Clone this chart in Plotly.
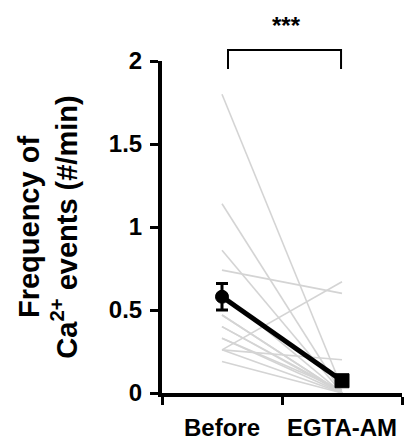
import plotly.graph_objects as go

categories = ["Before", "EGTA-AM"]

# individual paired recordings (Before, EGTA-AM)
before_vals = [1.80, 1.14, 0.86, 0.74, 0.60, 0.47, 0.40, 0.33, 0.33, 0.26, 0.26, 0.26, 0.19, 0.47, 0.40]
after_vals  = [0.03, 0.00, 0.00, 0.60, 0.00, 0.00, 0.00, 0.00, 0.02, 0.67, 0.20, 0.00, 0.00, 0.00, 0.01]

mean_vals = [0.58, 0.074]
sem_vals = [0.08, 0.025]

y_tickvals = [0, 0.5, 1, 1.5, 2]
y_ticktext = ["0", "0.5", "1", "1.5", "2"]

FONT = "Liberation Sans, Arial, sans-serif"

fig = go.Figure()

for b, a in zip(before_vals, after_vals):
    fig.add_trace(go.Scatter(
        x=categories, y=[b, a], mode="lines",
        line=dict(color="#d4d4d4", width=1.6),
        showlegend=False, hoverinfo="skip"))

fig.add_trace(go.Scatter(
    x=categories, y=mean_vals, mode="lines+markers",
    line=dict(color="black", width=5),
    marker=dict(symbol=["circle", "square"], size=[13, 14], color="black",
                opacity=1, line=dict(color="black", width=1)),
    error_y=dict(type="data", array=sem_vals, color="black", thickness=3, width=6),
    showlegend=False, cliponaxis=False))

# significance bracket
fig.add_shape(type="path", xref="paper", yref="paper",
              path="M 0.275 0.976 L 0.275 1.033 L 0.746 1.033 L 0.746 0.976",
              line=dict(color="black", width=2))
fig.add_annotation(x=0.52, y=1.06, xref="paper", yref="paper", text="***",
                   showarrow=False, yanchor="bottom",
                   font=dict(family=FONT, size=24, color="black", weight="bold"))

fig.update_layout(
    width=412, height=443,
    margin=dict(l=162, r=10, t=61, b=50, autoexpand=False),
    paper_bgcolor="white", plot_bgcolor="white",
    font=dict(family=FONT, color="black", weight="bold"),
    xaxis=dict(
        type="category", categoryorder="array", categoryarray=categories,
        range=[-0.5, 1.5], tickson="boundaries", tickangle=0, automargin=False,
        ticklabelstandoff=10,
        showline=True, linecolor="black", linewidth=4,
        ticks="outside", ticklen=8, tickwidth=3, tickcolor="black",
        tickfont=dict(family=FONT, size=24, color="black", weight="bold"),
        showgrid=False, zeroline=False, fixedrange=True),
    yaxis=dict(
        range=[0, 2], tickvals=y_tickvals, ticktext=y_ticktext, automargin=False,
        ticklabelstandoff=3,
        showline=True, linecolor="black", linewidth=4,
        ticks="outside", ticklen=8, tickwidth=3, tickcolor="black",
        tickfont=dict(family=FONT, size=24, color="black", weight="bold"),
        showgrid=False, zeroline=False, fixedrange=True,
        title=dict(text="Frequency of<br>Ca<sup>2+</sup> events (#/min)",
                   font=dict(family=FONT, size=29, color="black", weight="bold"),
                   standoff=24)),
)

fig.write_html("out.html")
